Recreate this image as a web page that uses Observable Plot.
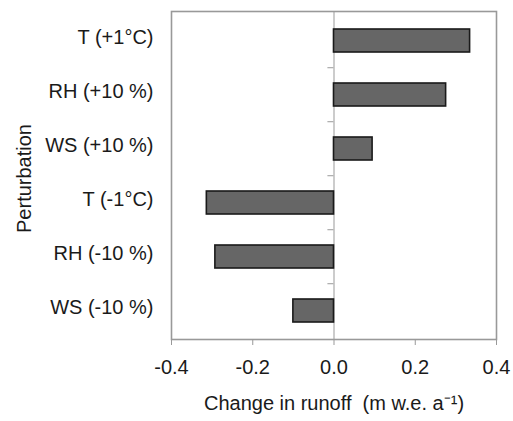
<!DOCTYPE html>
<html>
<head>
<meta charset="utf-8">
<script src="https://cdn.jsdelivr.net/npm/d3@7"></script>
<script src="https://cdn.jsdelivr.net/npm/@observablehq/plot@0.6"></script>
<style>
  html, body { margin: 0; padding: 0; background: #fff; }
</style>
</head>
<body>
<div id="chart"></div>
<script>
const categories = ["T (+1°C)", "RH (+10 %)", "WS (+10 %)", "T (-1°C)", "RH (-10 %)", "WS (-10 %)"];
const changes = [0.335, 0.276, 0.095, -0.313, -0.292, -0.100];
const xTicks = [-0.4, -0.2, 0.0, 0.2, 0.4];
const xLabel = "Change in runoff\u00a0 (m w.e. a\u207b\u00b9)";
const yLabel = "Perturbation";

const data = categories.map((c, i) => ({cat: c, value: changes[i]}));

const chart = Plot.plot({
  width: 513,
  height: 421,
  marginLeft: 171,
  marginRight: 17,
  marginTop: 11,
  marginBottom: 82,
  style: {fontFamily: "'Liberation Sans', Arial, sans-serif", fontSize: "20px", background: "#fff", color: "#1a1a1a"},
  x: {domain: [-0.4, 0.4]},
  y: {domain: categories, paddingInner: 0.58, paddingOuter: 0.29},
  marks: [
    Plot.ruleX([0], {stroke: "#aaa", strokeWidth: 1.2}),
    Plot.ruleY(categories.slice(1), {y: d => d, x1: -0.015, x2: 0, dy: -27.33, stroke: "#aaa", strokeWidth: 1.2}),
    Plot.barX(data, {x: "value", y: "cat", fill: "#666", stroke: "#1a1a1a", strokeWidth: 1.6}),
    Plot.frame({stroke: "#999", strokeWidth: 1.6}),
    Plot.axisX({ticks: xTicks, tickFormat: d => d.toFixed(1), tickSize: 6, tickPadding: 14, label: null, stroke: "#999", fill: "#1a1a1a"}),
    Plot.axisY({tickSize: 0, tickPadding: 18, label: null, dy: -3, fill: "#1a1a1a"}),
    Plot.text([xLabel], {text: d => d, frameAnchor: "bottom", lineAnchor: "middle", textAnchor: "middle", dy: 63.6, fill: "#1a1a1a"}),
    Plot.text([yLabel], {text: d => d, frameAnchor: "left", textAnchor: "middle", lineAnchor: "middle", rotate: -90, dx: -147, dy: 3, fill: "#1a1a1a"})
  ]
});
document.getElementById("chart").appendChild(chart);
</script>
</body>
</html>
